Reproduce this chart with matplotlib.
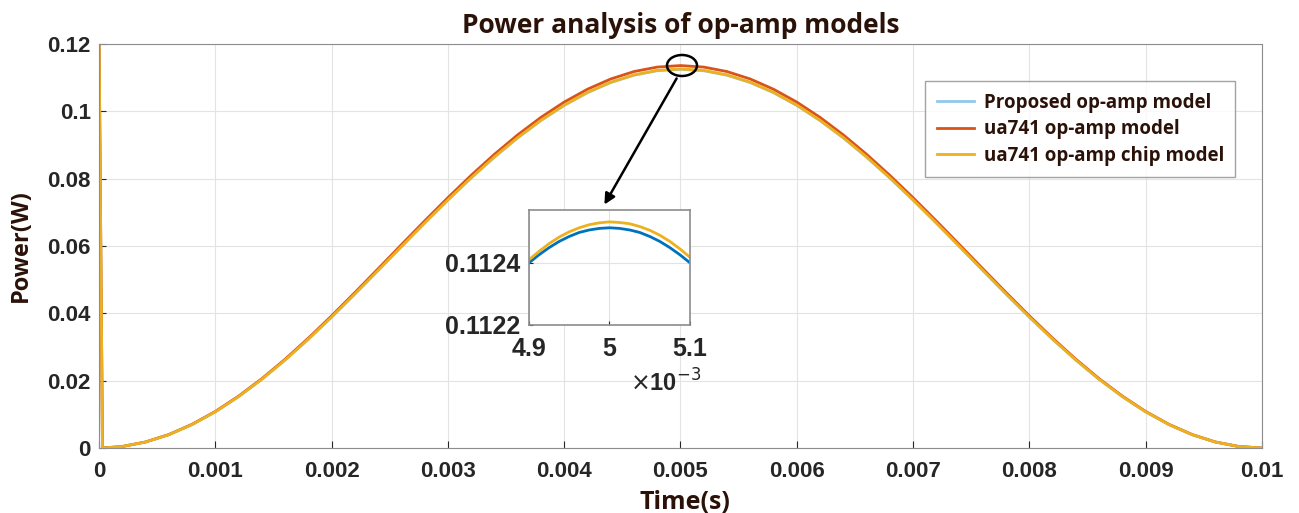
import matplotlib
matplotlib.use("Agg")
import matplotlib.pyplot as plt
from matplotlib.patches import Ellipse, FancyArrowPatch

### values
time = [0, 0.00003, 0.0002, 0.0004, 0.0006, 0.0008, 0.001, 0.0012, 0.0014, 0.0016,
        0.0018, 0.002, 0.0022, 0.0024, 0.0026, 0.0028, 0.003, 0.0032, 0.0034,
        0.0036, 0.0038, 0.004, 0.0042, 0.0044, 0.0046, 0.0048, 0.005, 0.0052,
        0.0054, 0.0056, 0.0058, 0.006, 0.0062, 0.0064, 0.0066, 0.0068, 0.007,
        0.0072, 0.0074, 0.0076, 0.0078, 0.008, 0.0082, 0.0084, 0.0086, 0.0088,
        0.009, 0.0092, 0.0094, 0.0096, 0.0098, 0.01]
p_chip = [0.125, 0.0, 0.00044, 0.00177, 0.00395, 0.00696, 0.01075, 0.01526, 0.02041,
          0.02613, 0.03233, 0.03890, 0.04575, 0.05277, 0.05984, 0.06685, 0.07370,
          0.08027, 0.08647, 0.09219, 0.09734, 0.10185, 0.10564, 0.10865, 0.11083,
          0.11216, 0.11260, 0.11216, 0.11083, 0.10865, 0.10564, 0.10185, 0.09734,
          0.09219, 0.08647, 0.08027, 0.07370, 0.06685, 0.05984, 0.05277, 0.04575,
          0.03890, 0.03233, 0.02613, 0.02041, 0.01526, 0.01075, 0.00696, 0.00395,
          0.00177, 0.00044, 0.0]
p_ua741 = [0.125, 0.0, 0.00045, 0.00179, 0.00399, 0.00703, 0.01085, 0.01540, 0.02059,
           0.02636, 0.03262, 0.03925, 0.04616, 0.05323, 0.06037, 0.06744, 0.07435,
           0.08099, 0.08724, 0.09301, 0.09821, 0.10275, 0.10657, 0.10961, 0.11182,
           0.11315, 0.11360, 0.11315, 0.11182, 0.10961, 0.10657, 0.10275, 0.09821,
           0.09301, 0.08724, 0.08099, 0.07435, 0.06744, 0.06037, 0.05323, 0.04616,
           0.03925, 0.03262, 0.02636, 0.02059, 0.01540, 0.01085, 0.00703, 0.00399,
           0.00179, 0.00045, 0.0]
p_proposed = [0.125, 0.0, 0.00044, 0.00177, 0.00395, 0.00696, 0.01074, 0.01525, 0.02040,
              0.02611, 0.03230, 0.03887, 0.04571, 0.05272, 0.05978, 0.06679, 0.07363,
              0.08020, 0.08639, 0.09211, 0.09726, 0.10176, 0.10554, 0.10855, 0.11073,
              0.11206, 0.11250, 0.11206, 0.11073, 0.10855, 0.10554, 0.10176, 0.09726,
              0.09211, 0.08639, 0.08020, 0.07363, 0.06679, 0.05978, 0.05272, 0.04571,
              0.03887, 0.03230, 0.02611, 0.02040, 0.01525, 0.01074, 0.00696, 0.00395,
              0.00177, 0.00044, 0.0]

### zoomed values around the peak
t_zoom = [0.0049, 0.0049125, 0.004925, 0.0049375, 0.00495, 0.0049625, 0.004975,
          0.0049875, 0.005, 0.0050125, 0.005025, 0.0050375, 0.00505, 0.0050625,
          0.005075, 0.0050875, 0.0051]
z_proposed = [0.112400, 0.112426, 0.112449, 0.112469, 0.112485, 0.112498, 0.112506,
              0.112511, 0.112513, 0.112511, 0.112506, 0.112498, 0.112485, 0.112469,
              0.112449, 0.112426, 0.112400]
z_chip = [0.112410, 0.112437, 0.112462, 0.112483, 0.112500, 0.112513, 0.112523,
          0.112529, 0.112532, 0.112530, 0.112526, 0.112517, 0.112505, 0.112489,
          0.112469, 0.112445, 0.112418]

xticks = [0, 0.001, 0.002, 0.003, 0.004, 0.005, 0.006, 0.007, 0.008, 0.009, 0.01]
xlabels = ['0', '0.001', '0.002', '0.003', '0.004', '0.005', '0.006', '0.007', '0.008', '0.009', '0.01']
yticks = [0, 0.02, 0.04, 0.06, 0.08, 0.1, 0.12]
ylabels = ['0', '0.02', '0.04', '0.06', '0.08', '0.1', '0.12']

light_blue = '#92c8ea'
red = '#d95319'
orange = '#edb120'
dark_blue = '#0072bd'
txt = '#2a1208'

fig = plt.figure(figsize=(12.99, 5.13), dpi=100)
ax = fig.add_axes([0.0762, 0.1267, 0.8953, 0.7875])

ax.plot(time, p_proposed, color=light_blue, lw=2, label='Proposed op-amp model')
ax.plot(time, p_ua741, color=red, lw=2, label='ua741 op-amp model')
ax.plot(time, p_chip, color=orange, lw=2, label='ua741 op-amp chip model')

ax.set_xlim(0, 0.01)
ax.set_ylim(0, 0.12)
ax.set_xticks(xticks)
ax.set_xticklabels(xlabels)
ax.set_yticks(yticks)
ax.set_yticklabels(ylabels)
ax.tick_params(labelsize=16, colors='#262626', length=5, direction='in')
ax.tick_params(axis='x', pad=9)
ax.tick_params(axis='y', pad=6)
for lab in ax.get_xticklabels() + ax.get_yticklabels():
    lab.set_fontweight('bold')
    lab.set_family('Liberation Sans')
ax.grid(True, color='#e3e3e3', lw=0.8)
for s in ax.spines.values():
    s.set_color('#8c8c8c')

ax.set_title('Power analysis of op-amp models', fontsize=19, fontweight='bold',
             family='Open Sans', color=txt, pad=8)
ax.set_xlabel('Time(s)', fontsize=18, fontweight='bold', family='Open Sans', color=txt)
ax.xaxis.set_label_coords(0.504, -0.105)
ax.set_ylabel('Power(W)', fontsize=17, fontweight='bold', family='Open Sans', color=txt)
ax.yaxis.set_label_coords(-0.057, 0.5)

leg = ax.legend(loc='upper right', bbox_to_anchor=(0.985, 0.931), fancybox=False,
                edgecolor='#8c8c8c', handlelength=2.0, borderpad=0.6, labelspacing=0.35,
                handletextpad=0.5, prop={'family': 'Open Sans', 'weight': 'bold', 'size': 13.5})
leg.get_frame().set_linewidth(1.0)
for t in leg.get_texts():
    t.set_color(txt)

### inset
ins = fig.add_axes([0.4072, 0.3665, 0.124, 0.224])
ins.plot(t_zoom, z_proposed, color=dark_blue, lw=2)
ins.plot(t_zoom, z_chip, color=orange, lw=2)
ins.set_xlim(0.0049, 0.0051)
ins.set_ylim(0.1122, 0.11257)
ins.set_xticks([0.0049, 0.005, 0.0051])
ins.set_xticklabels(['4.9', '5', '5.1'])
ins.set_yticks([0.1122, 0.1124])
ins.set_yticklabels(['0.1122', '0.1124'])
ins.tick_params(labelsize=18, colors='#262626', length=3, direction='in')
ins.tick_params(axis='x', pad=9)
ins.tick_params(axis='y', pad=6)
for lab in ins.get_xticklabels() + ins.get_yticklabels():
    lab.set_fontweight('bold')
    lab.set_family('Liberation Sans')
ins.grid(True, color='#e3e3e3', lw=0.8)
for s in ins.spines.values():
    s.set_color('#8c8c8c')
    s.set_linewidth(1.2)
fig.text(630 / 1299, 1 - 383 / 513, r'$\times$10$^{-3}$', fontsize=17, fontweight='bold',
         family='Liberation Sans', color='#262626', va='center')

### circle and arrow
fig.patches.append(Ellipse((682 / 1299, 1 - 65.5 / 513), 30 / 1299, 21 / 513,
                           transform=fig.transFigure, fill=False, lw=1.8, color='black'))
fig.add_artist(FancyArrowPatch((678 / 1299, 1 - 76 / 513), (603 / 1299, 1 - 207 / 513),
               transform=fig.transFigure, arrowstyle='-|>', mutation_scale=16, lw=1.8, color='black'))

fig.savefig('out.png', dpi=100)
